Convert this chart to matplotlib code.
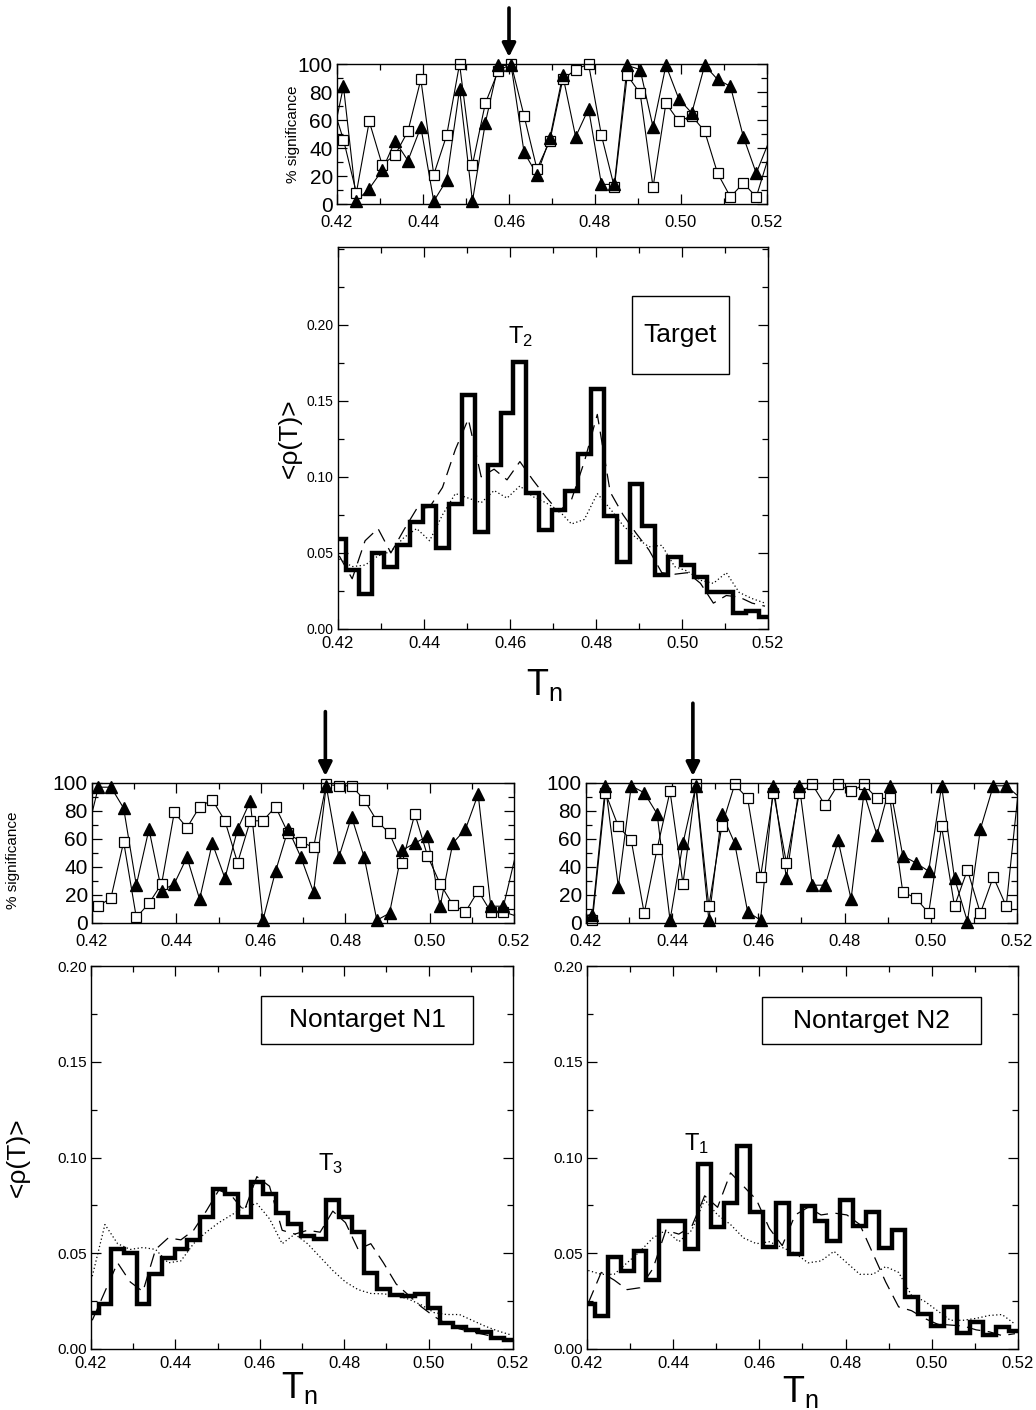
import numpy as np
import matplotlib
matplotlib.use("Agg")
import matplotlib.pyplot as plt
from matplotlib.patches import Rectangle
from matplotlib.ticker import MultipleLocator, FixedLocator

plt.rcParams['font.family'] = ['Liberation Sans', 'DejaVu Sans']
plt.rcParams['mathtext.fontset'] = 'custom'
plt.rcParams['mathtext.rm'] = 'Liberation Sans'
plt.rcParams['mathtext.it'] = 'Liberation Sans'

# ---- data ----
# significance scans: T grid step 0.003, first/last points fall just outside 0.42-0.52
t_sig = np.round(0.4185 + 0.003 * np.arange(35), 4)
sq_target = [75, 46, 8, 59, 28, 35, 52, 89, 21, 49, 100, 28, 72, 95, 100, 63, 25, 45,
             89, 96, 100, 49, 12, 92, 79, 12, 72, 59, 63, 52, 22, 5, 15, 5, 35]
tri_target = [40, 84, 2, 11, 24, 45, 31, 55, 2, 17, 82, 2, 58, 99, 99, 37, 21, 47,
              92, 48, 68, 14, 14, 99, 96, 55, 99, 75, 65, 99, 89, 84, 48, 22, 45]
sq_n1 = [10, 12, 18, 58, 4, 14, 28, 79, 68, 83, 88, 73, 43, 73, 73, 83, 64, 58,
         54, 99, 98, 98, 88, 73, 64, 43, 78, 48, 28, 13, 8, 23, 8, 8, 5]
tri_n1 = [60, 97, 97, 82, 27, 67, 23, 28, 47, 17, 57, 32, 67, 87, 2, 37, 67, 47,
          22, 98, 47, 76, 47, 2, 7, 52, 57, 62, 12, 57, 67, 92, 12, 12, 50]
sq_n2 = [5, 2, 93, 69, 59, 7, 53, 94, 28, 99, 12, 69, 99, 89, 33, 93, 43, 93,
         99, 84, 99, 94, 99, 89, 89, 22, 18, 7, 69, 12, 38, 7, 33, 12, 100]
tri_n2 = [5, 6, 98, 26, 98, 93, 78, 2, 57, 98, 2, 78, 57, 8, 2, 98, 32, 98,
          27, 27, 59, 17, 93, 63, 98, 48, 43, 37, 98, 32, 1, 67, 98, 98, 90]
arrow_T = {"target": 0.460, "n1": 0.4753, "n2": 0.4448}

# <rho(T)> histograms: bin edges every 0.003
edges = np.round(0.4188 + 0.003 * np.arange(35), 4)
centers = np.round(edges[:-1] + 0.0015, 4)
hist_target = [0.059, 0.039, 0.023, 0.050, 0.041, 0.055, 0.070, 0.081, 0.053, 0.082,
               0.154, 0.0635, 0.108, 0.142, 0.1755, 0.0895, 0.065, 0.0785, 0.091, 0.115,
               0.158, 0.0745, 0.044, 0.095, 0.0675, 0.0356, 0.047, 0.042, 0.034, 0.0246,
               0.0246, 0.0108, 0.012, 0.0077]
dash_target = [0.048, 0.033, 0.058, 0.066, 0.050, 0.065, 0.079, 0.080, 0.093, 0.118,
               0.138, 0.100, 0.105, 0.098, 0.110, 0.098, 0.087, 0.077, 0.085, 0.110,
               0.141, 0.090, 0.075, 0.063, 0.052, 0.037, 0.036, 0.037, 0.030, 0.017,
               0.022, 0.021, 0.017, 0.015]
dot_target = [0.046, 0.041, 0.042, 0.048, 0.051, 0.060, 0.066, 0.058, 0.075, 0.089,
              0.086, 0.083, 0.091, 0.086, 0.094, 0.087, 0.083, 0.078, 0.069, 0.072,
              0.089, 0.079, 0.068, 0.060, 0.054, 0.055, 0.041, 0.038, 0.032, 0.030,
              0.037, 0.024, 0.020, 0.017]
hist_n1 = [0.0186, 0.0235, 0.052, 0.050, 0.0233, 0.039, 0.0473, 0.052, 0.0569, 0.069,
           0.0833, 0.0807, 0.069, 0.087, 0.0812, 0.0708, 0.0652, 0.059, 0.0577, 0.0777,
           0.069, 0.0612, 0.0398, 0.0311, 0.0282, 0.0278, 0.0287, 0.0216, 0.0134, 0.0113,
           0.0099, 0.009, 0.0056, 0.0047]
dash_n1 = [0.015, 0.030, 0.045, 0.035, 0.030, 0.052, 0.058, 0.057, 0.062, 0.072,
           0.083, 0.080, 0.072, 0.090, 0.085, 0.062, 0.060, 0.062, 0.061, 0.072,
           0.066, 0.052, 0.055, 0.045, 0.034, 0.028, 0.022, 0.017, 0.013, 0.0105,
           0.009, 0.0075, 0.006, 0.005]
dot_n1 = [0.038, 0.065, 0.055, 0.052, 0.053, 0.052, 0.045, 0.046, 0.055, 0.061,
          0.066, 0.070, 0.074, 0.076, 0.068, 0.055, 0.060, 0.055, 0.048, 0.041,
          0.035, 0.031, 0.029, 0.0288, 0.028, 0.026, 0.023, 0.019, 0.018, 0.018,
          0.015, 0.012, 0.0095, 0.0075]
hist_n2 = [0.0235, 0.0174, 0.0482, 0.0409, 0.0513, 0.036, 0.0668, 0.0668, 0.052, 0.0965,
           0.0635, 0.0765, 0.106, 0.0717, 0.0534, 0.0765, 0.0496, 0.0746, 0.0668, 0.0565,
           0.0777, 0.0642, 0.0713, 0.0525, 0.0621, 0.0273, 0.0183, 0.012, 0.0217, 0.0082,
           0.0143, 0.0073, 0.0117, 0.0094]
dash_n2 = [0.024, 0.040, 0.036, 0.031, 0.032, 0.042, 0.062, 0.060, 0.064, 0.080,
           0.074, 0.092, 0.085, 0.078, 0.063, 0.054, 0.070, 0.074, 0.070, 0.071,
           0.070, 0.065, 0.050, 0.035, 0.022, 0.020, 0.016, 0.013, 0.0125, 0.012,
           0.010, 0.009, 0.007, 0.008]
dot_n2 = [0.041, 0.039, 0.039, 0.045, 0.051, 0.058, 0.062, 0.056, 0.062, 0.078,
          0.070, 0.065, 0.058, 0.055, 0.056, 0.053, 0.050, 0.045, 0.046, 0.051,
          0.045, 0.039, 0.039, 0.043, 0.040, 0.028, 0.025, 0.020, 0.015, 0.015,
          0.016, 0.0175, 0.018, 0.013]

x_ticks = [0.42, 0.44, 0.46, 0.48, 0.50, 0.52]
x_ticklabels = ["0.42", "0.44", "0.46", "0.48", "0.50", "0.52"]
rho_ticks = [0.0, 0.05, 0.10, 0.15, 0.20]

fig = plt.figure(figsize=(10.36, 14.10), dpi=100)


def style_axes(ax, ymin, ylo, yhi, xfs, yfs, xpad):
    ax.set_xlim(0.42, 0.52)
    ax.set_ylim(ylo, yhi)
    ax.set_xticks(x_ticks)
    ax.set_xticklabels(x_ticklabels)
    ax.xaxis.set_minor_locator(MultipleLocator(0.01))
    ax.yaxis.set_minor_locator(MultipleLocator(ymin))
    ax.tick_params(which="both", direction="in", top=True, right=True, width=0.9)
    ax.tick_params(which="major", length=7)
    ax.tick_params(which="minor", length=4)
    ax.tick_params(axis="x", labelsize=xfs, pad=xpad)
    ax.tick_params(axis="y", labelsize=yfs, pad=3)
    for s in ax.spines.values():
        s.set_linewidth(1.0)


def sig_panel(rect, sq, tri, arrow_x, tail, ylabel=True):
    ax = fig.add_axes(rect)
    ax.set_yticks([0, 20, 40, 60, 80, 100])
    style_axes(ax, 10, 0, 100, 12, 15, 8)
    inside = (t_sig >= 0.42) & (t_sig <= 0.52)
    sq = np.asarray(sq, float)
    tri = np.asarray(tri, float)
    ax.plot(t_sig, sq, color="k", lw=0.8)
    ax.plot(t_sig, tri, color="k", lw=0.8)
    ax.plot(t_sig[inside], sq[inside], ls="none", marker="s", ms=7.5, mfc="white",
            mec="k", mew=0.9, clip_on=False)
    ax.plot(t_sig[inside], tri[inside], ls="none", marker="^", ms=8.5, mfc="k",
            mec="k", clip_on=False)
    ax.annotate("", xy=(arrow_x, 105), xytext=(arrow_x, tail),
                arrowprops=dict(arrowstyle="-|>", lw=2.6, color="k",
                                mutation_scale=20, shrinkA=0, shrinkB=0),
                annotation_clip=False)
    if ylabel:
        ax.set_ylabel("% significance", fontsize=11)
    return ax


def rho_panel(rect, hist, dash, dot, ytop, yfs, box, label):
    ax = fig.add_axes(rect)
    ax.yaxis.set_major_locator(FixedLocator(rho_ticks))
    style_axes(ax, 0.025, 0, ytop, 12, yfs, 5)
    ax.yaxis.set_major_formatter(matplotlib.ticker.FormatStrFormatter("%.2f"))
    ax.plot(centers, dot, color="k", lw=0.9, ls=(0, (1, 2)))
    ax.plot(centers, dash, color="k", lw=0.9, ls=(0, (11, 6)))
    ax.stairs(hist, edges, baseline=None, color="k", lw=3.2)
    x0, y0, x1, y1 = box
    ax.add_patch(Rectangle((x0, y0), x1 - x0, y1 - y0, transform=ax.transAxes,
                           fill=False, ec="k", lw=1.0))
    ax.text((x0 + x1) / 2, (y0 + y1) / 2, label, transform=ax.transAxes,
            ha="center", va="center", fontsize=19)
    ax.set_xlabel(r"$\mathregular{T_n}$", fontsize=26)
    return ax


W, H = 1036, 1410


def rect(l, t, r, b):
    return [l / W, 1 - b / H, (r - l) / W, (b - t) / H]


# top: target
ax1 = sig_panel(rect(337, 64, 767, 204), sq_target, tri_target, arrow_T["target"], 140)
ax1.yaxis.set_label_coords(-0.085, 0.5)
ax2 = rho_panel(rect(338, 247, 768, 629), hist_target, dash_target, dot_target,
                0.251, 10, (0.684, 0.668, 0.909, 0.872), "Target")
ax2.set_ylabel("<ρ(T)>", fontsize=19)
ax2.yaxis.set_label_coords(-0.085, 0.5)
ax2.xaxis.set_label_coords(0.48, -0.1)
ax2.text(0.4625, 0.192, r"$\mathregular{T_2}$", fontsize=17, ha="center", va="center")

# bottom left: nontarget N1
ax3 = sig_panel(rect(92, 783, 514, 923), sq_n1, tri_n1, arrow_T["n1"], 151)
ax3.yaxis.set_label_coords(-0.17, 0.45)
ax4 = rho_panel(rect(91, 966, 513, 1349), hist_n1, dash_n1, dot_n1,
                0.20, 11, (0.403, 0.796, 0.905, 0.922), "Nontarget N1")
ax4.set_ylabel("<ρ(T)>", fontsize=19)
ax4.yaxis.set_label_coords(-0.145, 0.5)
ax4.xaxis.set_label_coords(0.495, -0.055)
ax4.text(0.4768, 0.097, r"$\mathregular{T_3}$", fontsize=17, ha="center", va="center")

# bottom right: nontarget N2
ax5 = sig_panel(rect(586, 783, 1017, 923), sq_n2, tri_n2, arrow_T["n2"], 157,
                ylabel=False)
ax6 = rho_panel(rect(587, 966, 1018, 1349), hist_n2, dash_n2, dot_n2,
                0.20, 11, (0.406, 0.796, 0.914, 0.919), "Nontarget N2")
ax6.xaxis.set_label_coords(0.494, -0.065)
ax6.text(0.4455, 0.1075, r"$\mathregular{T_1}$", fontsize=17, ha="center", va="center")

fig.savefig("out.png", dpi=100)
